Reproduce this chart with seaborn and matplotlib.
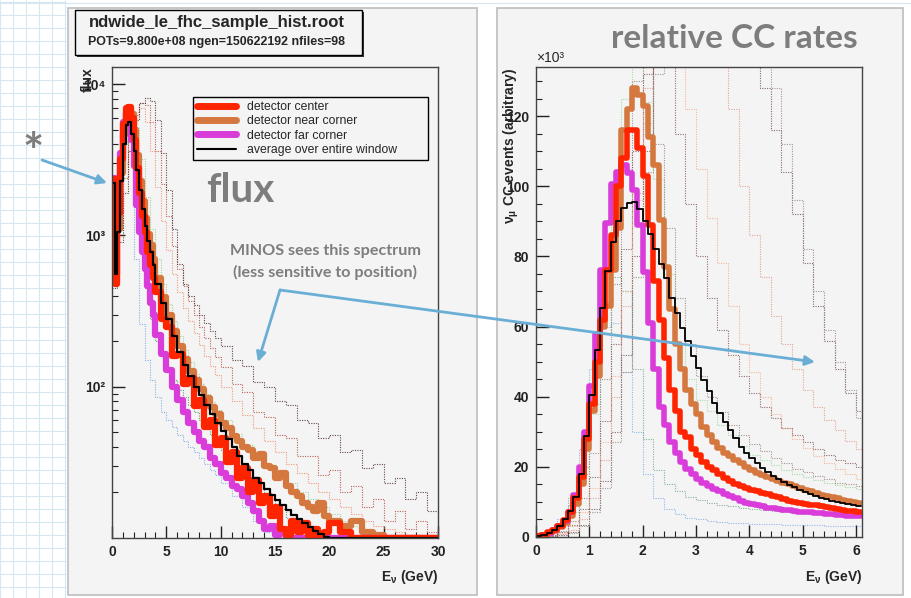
import numpy as np
import matplotlib
matplotlib.use("Agg")
import matplotlib.pyplot as plt
import seaborn as sns
from matplotlib.lines import Line2D
from matplotlib.patches import Rectangle
from matplotlib.ticker import MultipleLocator, LogLocator, NullFormatter

# ---------------- left panel: flux (log y) ----------------
FLUX_EDGES = [0, 0.25, 0.5, 0.75, 1, 1.25, 1.5, 1.75, 2, 2.25, 2.5, 2.75, 3, 3.25, 3.5, 3.75, 4,
              4.5, 5, 5.5, 6, 6.5, 7, 7.5, 8, 8.5, 9, 9.5, 10, 10.5, 11, 11.5, 12, 12.5, 13,
              13.5, 14, 14.5, 15, 15.5, 16, 16.5, 17, 17.5, 18, 18.5, 19, 19.5, 20,
              21, 22, 23, 24, 25, 26, 27, 28, 29, 30]

flux_avg = [2230, 560, 1050, 2300, 4000, 5400, 5600, 4700, 3600, 2700, 2000, 1500, 1150, 920, 780, 640,
            480, 360, 280, 215, 170, 140, 118, 100, 88, 76, 66, 58, 51, 45, 40, 35,
            31, 28, 25, 23, 21, 19.3, 17.8, 16.5, 15.3, 14.3, 13.4, 12.6, 11.9, 11.2, 10.6, 10.1,
            10, 10, 10, 10, 10, 10, 10, 10, 10, 10]
flux_center = [2350, 480, 1400, 3200, 5500, 7000, 7100, 6000, 4300, 2800, 1900, 1350, 1050, 780, 640, 520,
               420, 280, 250, 160, 165, 105, 115, 75, 82, 54, 60, 41, 46, 32, 37, 25,
               29, 20, 24, 17, 19, 14, 16, 11.5, 10.4, 13, 11, 12.5, 10.3, 11.5, 10.1, 11,
               12.5, 11, 10, 10, 10, 10, 10, 10, 10, 10]
flux_near = [2200, 500, 1100, 2600, 4700, 6500, 6800, 6400, 5000, 3400, 2300, 1700, 1300, 1030, 860, 700,
             520, 390, 300, 235, 185, 152, 128, 110, 96, 84, 74, 66, 58, 53, 47, 44,
             40, 38, 34, 36, 30, 29, 25, 27, 22, 20, 19, 17, 16, 15, 17, 14,
             13, 12, 13, 11, 10.5, 10, 10, 10, 10, 10]
flux_far = [2400, 560, 1500, 3500, 5600, 6500, 6000, 4300, 2900, 1600, 1050, 780, 600, 460, 360, 300,
            220, 165, 130, 100, 82, 68, 58, 50, 44, 40, 34, 31, 27, 25, 22, 21,
            19, 17, 15, 13, 11.5, 12, 10.5, 11, 10, 10, 10, 10, 10, 10, 10, 10,
            10, 10, 10, 10, 10, 10, 10, 10, 10, 10]

# other window positions (dotted)
FLUX_EDGES_DOT = [0, 0.5, 1, 1.5, 2, 2.5, 3, 3.5, 4, 4.5, 5, 5.5, 6, 6.5, 7, 7.5, 8, 8.5, 9, 9.5, 10,
                  11, 12, 13, 14, 15, 16, 17, 18, 19, 20, 21, 22, 23, 24, 25, 26, 27, 28, 29, 30]
flux_dot_blue = [700, 2200, 4300, 3600, 700, 260, 150, 110, 85, 68, 60, 54, 48, 44, 40, 37, 34, 31, 28, 26,
                 23, 19, 16, 13, 11, 10, 10, 10, 10, 10, 10, 10, 10, 10, 10, 10, 10, 10, 10, 10]
flux_dot_dkgreen = [650, 1900, 4200, 5000, 2800, 1000, 450, 280, 200, 160, 130, 110, 95, 85, 76, 68, 60, 54, 48, 43,
                    38, 31, 26, 22, 18, 15.5, 13.5, 12, 11, 10.5, 10, 10, 10, 10, 10, 10, 10, 10, 10, 10]
flux_dot_lgreen = [600, 1700, 4000, 5800, 5200, 3200, 1800, 1100, 700, 480, 350, 270, 215, 175, 145, 122, 104, 90, 79, 70,
                   60, 49, 41, 35, 30, 26, 23, 20, 18, 16, 14.5, 13, 12, 11, 10.5, 10, 10, 10, 10, 10]
flux_dot_salmon = [550, 1400, 3000, 5000, 6600, 7000, 5600, 3600, 2100, 1250, 800, 560, 420, 330, 270, 225, 190, 160, 138, 120,
                   100, 80, 65, 53, 44, 37, 31, 27, 23, 20, 18, 16, 14.5, 13, 12, 11.5, 11, 10.5, 10, 10]
flux_dot_redbrown = [500, 1100, 2400, 4300, 6300, 7500, 7300, 5600, 3600, 2200, 1350, 850, 600, 460, 370, 300, 250, 210, 180, 158,
                     135, 104, 92, 68, 63, 48, 46, 35, 35, 26, 28, 20, 22, 16, 18, 13, 15, 11.5, 13, 11]
flux_dot_dkbrown = [450, 900, 1900, 3600, 5800, 7500, 8100, 7700, 5800, 3500, 2000, 1100, 650, 480, 400, 345, 300, 265, 235, 210,
                    185, 150, 138, 108, 100, 80, 76, 60, 58, 46, 48, 37, 38, 29, 31, 23, 25, 18, 20, 15]

# ---------------- right panel: CC rates (x10^3) ----------------
RATE_EDGES = [0.0, 0.1, 0.2, 0.3, 0.4, 0.5, 0.6, 0.7, 0.8, 0.9, 1.0, 1.1, 1.2, 1.3, 1.4, 1.5, 1.6, 1.7, 1.8, 1.9,
              2.0, 2.1, 2.2, 2.3, 2.4, 2.5, 2.6, 2.7, 2.8, 2.9, 3.0, 3.1, 3.2, 3.3, 3.4, 3.5, 3.6, 3.7, 3.8, 3.9,
              4.0, 4.1, 4.2, 4.3, 4.4, 4.5, 4.6, 4.7, 4.8, 4.9, 5.0, 5.1, 5.2, 5.3, 5.4, 5.5, 5.6, 5.7, 5.8, 5.9,
              6.0, 6.1]
rate_avg = [0.2, 0.7, 1.2, 2.0, 3.0, 5.0, 7.4, 11.5, 18.0, 28.7,
            40.6, 53.4, 65.3, 75.8, 84.0, 90.0, 93.9, 95.3, 95.5, 93.5,
            90.0, 86.3, 82.0, 77.7, 73.9, 68.2, 63.9, 59.6, 55.8, 51.5,
            48.2, 44.9, 41.5, 38.2, 35.3, 32.9, 30.6, 28.2, 25.8, 23.9,
            22.5, 21.1, 19.6, 18.4, 17.3, 16.4, 15.6, 14.9, 14.2, 13.5,
            12.9, 12.3, 11.7, 11.2, 10.8, 10.4, 10.0, 9.7, 9.4, 9.1,
            8.9]
rate_center = [0.3, 0.7, 1.3, 2.1, 3.1, 4.8, 7.0, 11.0, 17.0, 28.0,
               38.0, 50.0, 62.0, 76.0, 86.0, 100.0, 108.0, 116.0, 116.0, 111.0,
               103.0, 89.0, 73.0, 62.0, 51.0, 42.0, 36.0, 30.0, 28.5, 25.0,
               23.5, 21.5, 20.0, 19.0, 18.0, 16.8, 16.0, 15.2, 14.6, 14.0,
               13.5, 13.0, 12.6, 12.2, 11.8, 11.4, 10.7, 10.4, 10.1, 9.7,
               9.4, 9.2, 9.0, 8.8, 8.5, 8.3, 8.0, 7.8, 7.5, 7.3,
               7.1]
rate_near = [0.2, 0.5, 1.0, 1.8, 2.8, 4.0, 6.0, 9.5, 15.0, 25.0,
             36.0, 46.0, 60.0, 66.0, 76.0, 88.0, 116.0, 122.0, 128.0, 126.0,
             123.0, 114.0, 106.0, 90.5, 77.0, 65.0, 55.0, 48.0, 42.0, 38.0,
             35.0, 31.5, 29.0, 27.0, 25.5, 24.0, 23.0, 22.0, 21.0, 20.0,
             19.0, 18.2, 17.6, 17.0, 16.5, 16.0, 15.5, 15.0, 14.5, 14.0,
             13.5, 13.0, 12.5, 12.0, 11.7, 11.3, 11.0, 10.6, 10.3, 10.0,
             9.8]
rate_far = [0.2, 0.6, 1.2, 2.0, 3.0, 4.5, 7.0, 12.0, 20.0, 30.0,
            43.0, 58.0, 76.0, 89.5, 100.6, 104.0, 106.0, 103.7, 99.0, 89.0,
            75.5, 61.0, 48.0, 37.0, 32.0, 27.0, 24.0, 21.5, 19.5, 18.0,
            16.5, 15.5, 14.5, 13.8, 13.0, 12.3, 11.8, 11.0, 10.3, 9.8,
            9.4, 9.0, 8.7, 8.4, 8.2, 8.0, 7.8, 7.6, 7.4, 7.2,
            7.1, 7.0, 6.9, 6.8, 6.7, 6.5, 6.4, 6.3, 6.1, 6.0,
            5.9]

RATE_EDGES_DOT = [0.0, 0.2, 0.4, 0.6, 0.8, 1.0, 1.2, 1.4, 1.6, 1.8, 2.0, 2.2, 2.4, 2.6, 2.8, 3.0,
                  3.2, 3.4, 3.6, 3.8, 4.0, 4.2, 4.4, 4.6, 4.8, 5.0, 5.2, 5.4, 5.6, 5.8, 6.0, 6.2]
rate_dot_blue = [0.5, 2, 5, 11, 25, 48, 60, 61, 47, 30, 18, 11, 8, 6.5, 5.5, 5, 4.6, 4.3, 4.1, 3.9,
                 3.8, 3.7, 3.6, 3.5, 3.4, 3.3, 3.3, 3.2, 3.2, 3.1, 3.1]
rate_dot_dkgreen = [0.4, 1.5, 4, 9, 20, 38, 58, 74, 70, 48, 28, 19, 15, 13, 11.5, 10.5, 9.8, 9.2, 8.7, 8.3,
                    8, 7.7, 7.4, 7.1, 6.9, 6.7, 6.5, 6.3, 6.1, 6, 5.9]
rate_dot_lgreen = [0.3, 1, 3, 7, 18, 35, 58, 90, 125, 140, 124, 102, 75, 55, 45, 39, 36, 32, 29, 26,
                   23.5, 22, 20.5, 19, 18, 17, 16.2, 15.5, 14.8, 14.2, 13.8]
rate_dot_graybrown = [0.2, 0.6, 1.8, 4.5, 11, 24, 45, 72, 105, 130, 145, 112, 88, 68, 55, 46, 40, 35.5, 32, 29,
                      26.5, 24.5, 22.5, 21, 19.5, 18.5, 17.5, 16.5, 15.5, 15, 14.5]
rate_dot_dkbrown1 = [0.2, 0.5, 1.4, 3.5, 8, 17, 33, 55, 82, 110, 132, 145, 138, 115, 95, 80, 68, 59, 52, 46,
                     41, 37, 34, 31, 29, 27, 25, 23.5, 22, 21, 20]
rate_dot_salmon = [0.1, 0.4, 1.2, 3, 7, 14, 27, 46, 70, 96, 118, 138, 148, 145, 122, 105, 91, 78, 66, 55,
                   47, 40, 35, 31, 28, 25.5, 23, 21, 19.5, 18, 16.5]
rate_dot_redbrown = [0.1, 0.3, 0.8, 2, 5, 11, 22, 40, 66, 98, 128, 148, 150, 150, 150, 150, 148, 140, 122, 100,
                     86, 74, 63, 55, 48, 42, 37, 33.5, 30.5, 27.5, 25]
rate_dot_dkbrown2 = [0.05, 0.2, 0.5, 1.3, 3.5, 8, 16, 30, 52, 80, 110, 136, 150, 150, 150, 150, 150, 150, 150, 150,
                     148, 128, 116, 104, 92, 78, 66, 56, 48, 41, 36]
rate_dot_gray2 = [0.05, 0.2, 0.5, 1.2, 3, 7, 14, 27, 47, 74, 104, 132, 150, 150, 150, 150, 150, 150, 150, 150,
                  150, 140, 128, 112, 96, 82, 70, 59, 50, 42, 34]

LEGEND_LABELS = ["detector center", "detector near corner", "detector far corner", "average over entire window"]

RED, ORANGE, MAGENTA = "#ff2400", "#d5783f", "#d93cd9"
PANEL = "#f4f4f4"
NOTE_GRAY = "#7d7d7d"
ARROW_BLUE = "#6aaed6"


def step_hist(ax, edges, values, color, lw, ls="-", alpha=1.0):
    # ROOT-style histogram outline: one step per bin, held to the last edge
    xs = list(edges)
    ys = list(values) + [values[-1]]
    sns.lineplot(x=xs, y=ys, drawstyle="steps-post", estimator=None, sort=False,
                 color=color, linewidth=lw, linestyle=ls, alpha=alpha, ax=ax)


def root_axes(ax):
    ax.set_facecolor(PANEL)
    for s in ax.spines.values():
        s.set_color("#444444")
        s.set_linewidth(1.0)
    ax.tick_params(which="both", direction="in", top=False, right=False, colors="#222222")
    ax.tick_params(which="major", length=9, width=1.0, labelsize=10, pad=5)
    ax.tick_params(which="minor", length=4.5, width=0.8)
    ax.set_xlabel("")
    ax.set_ylabel("")


sns.set_theme(style="ticks")
plt.rcParams["font.family"] = ["Liberation Sans", "DejaVu Sans"]
plt.rcParams["mathtext.default"] = "regular"

fig = plt.figure(figsize=(9.11, 5.98), dpi=100)
fig.patch.set_facecolor("white")

# slide background + the two canvases
bg = fig.add_axes([0, 0, 1, 1], zorder=0)
bg.set_xlim(0, 911)
bg.set_ylim(598, 0)
bg.axis("off")
bg.vlines(np.arange(0, 66, 13), 0, 598, color="#d6e7f2", lw=0.8)
bg.hlines(np.arange(2, 598, 13), 0, 66, color="#d6e7f2", lw=0.8)
bg.hlines([3], 0, 911, color="#d6e7f2", lw=0.8)
bg.add_patch(Rectangle((68, 8), 409, 587, facecolor=PANEL, edgecolor="#bdbdbd", lw=1.2))
bg.add_patch(Rectangle((497, 8), 406, 587, facecolor=PANEL, edgecolor="#bdbdbd", lw=1.2))

# ---------------- left: flux ----------------
ax1 = fig.add_axes([112 / 911, 60 / 598, 326 / 911, 471 / 598], zorder=2)
dot = (0, (1, 1.2))
for vals, col in [(flux_dot_blue, "#78a6e4"), (flux_dot_dkgreen, "#4d8a68"), (flux_dot_lgreen, "#8ccf8c"),
                  (flux_dot_salmon, "#f28a62"), (flux_dot_redbrown, "#b4493d"), (flux_dot_dkbrown, "#4e2626")]:
    step_hist(ax1, FLUX_EDGES_DOT, vals, col, 0.8, dot, alpha=0.85)
step_hist(ax1, FLUX_EDGES, flux_near, ORANGE, 4.5)
step_hist(ax1, FLUX_EDGES, flux_far, MAGENTA, 4.5)
step_hist(ax1, FLUX_EDGES, flux_center, RED, 4.5)
step_hist(ax1, FLUX_EDGES, flux_avg, "black", 1.6)
ax1.set_yscale("log")
ax1.set_xlim(0, 30)
ax1.set_ylim(10, 13000)
root_axes(ax1)
ax1.set_xticks([0, 5, 10, 15, 20, 25, 30], ["0", "5", "10", "15", "20", "25", "30"], fontweight="bold")
ax1.xaxis.set_minor_locator(MultipleLocator(1))
ax1.set_yticks([100, 1000, 10000], ["10²", "10³", "10⁴"], fontweight="bold")
ax1.yaxis.set_minor_locator(LogLocator(base=10, subs=range(2, 10)))
ax1.yaxis.set_minor_formatter(NullFormatter())
ax1.text(1.0, -0.083, r"E$_{\nu}$ (GeV)", transform=ax1.transAxes, ha="right", va="center",
         fontsize=10, fontweight="bold")
ax1.text(-0.074, 1.0, "flux", transform=ax1.transAxes, rotation=90, ha="center", va="top",
         fontsize=10, fontweight="bold")

handles = [Line2D([], [], color=RED, lw=5), Line2D([], [], color=ORANGE, lw=5),
           Line2D([], [], color=MAGENTA, lw=5), Line2D([], [], color="black", lw=1.5)]
leg = ax1.legend(handles, LEGEND_LABELS, loc="upper left", bbox_to_anchor=(0.248, 0.813, 0.721, 0.123),
                 mode="expand", borderaxespad=0, fontsize=8.8, handlelength=3.2, labelspacing=0.2,
                 handletextpad=0.9, fancybox=False, framealpha=1, facecolor=PANEL, edgecolor="black",
                 borderpad=0.3)
leg.get_frame().set_linewidth(1.0)

# ---------------- right: CC rates ----------------
ax2 = fig.add_axes([536 / 911, 61 / 598, 326 / 911, 470 / 598], zorder=2)
for vals, col in [(rate_dot_blue, "#7aa8e8"), (rate_dot_dkgreen, "#6aa386"), (rate_dot_lgreen, "#93d493"),
                  (rate_dot_graybrown, "#957a7a"), (rate_dot_dkbrown1, "#7d4c4c"), (rate_dot_salmon, "#f4a582"),
                  (rate_dot_redbrown, "#e0907c"), (rate_dot_dkbrown2, "#6d4545"), (rate_dot_gray2, "#927f7f")]:
    step_hist(ax2, RATE_EDGES_DOT, vals, col, 0.8, dot, alpha=0.8)
step_hist(ax2, RATE_EDGES, rate_near, ORANGE, 4.0)
step_hist(ax2, RATE_EDGES, rate_far, MAGENTA, 4.0)
step_hist(ax2, RATE_EDGES, rate_center, RED, 4.0)
step_hist(ax2, RATE_EDGES, rate_avg, "black", 1.3)
ax2.set_xlim(0, 6.11)
ax2.set_ylim(0, 134)
root_axes(ax2)
ax2.set_xticks([0, 1, 2, 3, 4, 5, 6], ["0", "1", "2", "3", "4", "5", "6"], fontweight="bold")
ax2.xaxis.set_minor_locator(MultipleLocator(0.2))
ax2.set_yticks([0, 20, 40, 60, 80, 100, 120], ["0", "20", "40", "60", "80", "100", "120"], fontweight="bold")
ax2.yaxis.set_minor_locator(MultipleLocator(5))
ax2.text(1.0, -0.085, r"E$_{\nu}$ (GeV)", transform=ax2.transAxes, ha="right", va="center",
         fontsize=10, fontweight="bold")
ax2.text(-0.076, 1.0, r"$\nu_{\mu}$ CC events (arbitrary)", transform=ax2.transAxes, rotation=90,
         ha="center", va="top", fontsize=10, fontweight="bold")
ax2.text(0.0, 1.004, "×10³", transform=ax2.transAxes, ha="left", va="bottom", fontsize=10)

# ---------------- slide annotations ----------------
ov = fig.add_axes([0, 0, 1, 1], zorder=5)
ov.set_xlim(0, 911)
ov.set_ylim(598, 0)
ov.axis("off")

ov.add_patch(Rectangle((77, 12), 287, 45, facecolor="#333333", edgecolor="none"))
ov.add_patch(Rectangle((75, 10), 287, 45, facecolor=PANEL, edgecolor="black", lw=1.0))
ov.text(217, 23, "ndwide_le_fhc_sample_hist.root", ha="center", va="center", fontsize=12, fontweight="bold")
ov.text(217, 42, "POTs=9.800e+08 ngen=150622192 nfiles=98", ha="center", va="center",
        fontsize=8.9, fontweight="bold")

hand = dict(family=["Lato", "DejaVu Sans"], fontweight="bold", color=NOTE_GRAY)
ov.text(33, 155, "*", ha="center", va="center", fontsize=36, **hand)
ov.text(240, 190, "flux", ha="center", va="center", fontsize=29, **hand)
ov.text(325, 251, "MINOS sees this spectrum", ha="center", va="center", fontsize=11.6, **hand)
ov.text(325, 272, "(less sensitive to position)", ha="center", va="center", fontsize=11.6, **hand)
ov.text(734, 38, "relative CC rates", ha="center", va="center", fontsize=24, **hand)

arrow = dict(arrowstyle="-|>", color=ARROW_BLUE, lw=2, mutation_scale=14, shrinkA=0, shrinkB=0)
ov.annotate("", xy=(107, 183), xytext=(42, 160), arrowprops=arrow)
ov.annotate("", xy=(258, 362), xytext=(280, 290), arrowprops=arrow)
ov.annotate("", xy=(815, 362), xytext=(280, 290), arrowprops=arrow)

fig.savefig("out.png", dpi=100)
